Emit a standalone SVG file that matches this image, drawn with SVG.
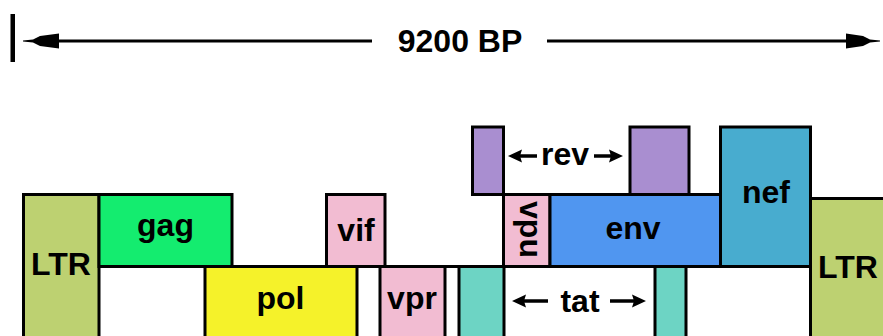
<svg xmlns="http://www.w3.org/2000/svg" width="883" height="336" viewBox="0 0 883 336">
<defs>
<style>
.box{stroke:#000;stroke-width:3}
.lbl{font-family:"Liberation Sans",Arial,sans-serif;font-weight:bold;font-size:32px;fill:#000;text-anchor:middle}
.ln{stroke:#000;stroke-width:3;fill:none}
.ar{stroke:#000;stroke-width:3.5;fill:none}
.hd{fill:#000}
.ltr{fill:#BDD171}
.pink{fill:#F2BCD2}
.rev{fill:#A98ED0}
.tat{fill:#6DD4C4}
</style>
</defs>
<rect width="883" height="336" fill="#fff"/>

<g id="connectors">
<rect x="10.5" y="14" width="4.5" height="48" fill="#000"/>
<line class="ln" x1="58" y1="41" x2="372" y2="41" stroke-width="3.5"/>
<line class="ln" x1="547" y1="41" x2="848" y2="41" stroke-width="3.5"/>
<polygon class="hd" points="23,40.5 33,39.5 40,36 59,33.5 59,48.5 40,46 33,42.5 23,41.5"/>
<polygon class="hd" points="880,40.5 870,39.5 863,36 846,33.5 846,48.5 863,46 870,42.5 880,41.5"/>
<line class="ln" x1="99" y1="266.5" x2="811" y2="266.5"/>
<line class="ar" x1="537" y1="156" x2="518" y2="156"/>
<polygon class="hd" points="508,156 522,149.5 520,156 522,162.5"/>
<line class="ar" x1="594" y1="156" x2="613" y2="156"/>
<polygon class="hd" points="623,156 609,149.5 611,156 609,162.5"/>
<line class="ar" x1="548" y1="301" x2="522" y2="301"/>
<polygon class="hd" points="512,301 526,294.5 524,301 526,307.5"/>
<line class="ar" x1="610" y1="301" x2="636" y2="301"/>
<polygon class="hd" points="646,301 632,294.5 634,301 632,307.5"/>
</g>

<g id="scale"><text class="lbl" x="460" y="52">9200 BP</text></g>

<g id="ltr-left"><rect class="box ltr" x="23.5" y="194.5" width="75.5" height="150"/><text class="lbl" x="61" y="275">LTR</text></g>
<g id="gag"><rect class="box" fill="#14EC6F" x="99" y="194.5" width="133" height="72"/><text class="lbl" x="165.5" y="236">gag</text></g>
<g id="vif"><rect class="box pink" x="326.5" y="194.5" width="58.5" height="72"/><text class="lbl" x="356" y="241">vif</text></g>
<g id="pol"><rect class="box" fill="#F5F22A" x="205" y="266.5" width="152" height="80"/><text class="lbl" x="280.5" y="309">pol</text></g>
<g id="vpr"><rect class="box pink" x="380" y="266.5" width="65" height="80"/><text class="lbl" x="412" y="309">vpr</text></g>
<g id="tat"><rect class="box tat" x="459" y="266.5" width="45" height="80"/><rect class="box tat" x="655" y="266.5" width="31" height="80"/><text class="lbl" x="580" y="312">tat</text></g>
<g id="rev"><rect class="box rev" x="472.5" y="127" width="31" height="67.5"/><rect class="box rev" x="630" y="127" width="59" height="67.5"/><text class="lbl" x="565" y="165">rev</text></g>
<g id="vpu"><rect class="box pink" x="503.5" y="194.5" width="46.5" height="72"/><text class="lbl" transform="translate(520,229.5) rotate(90)" x="0" y="0">vpu</text></g>
<g id="env"><rect class="box" fill="#5096F0" x="550" y="194.5" width="170.5" height="72"/><text class="lbl" x="633" y="239">env</text></g>
<g id="nef"><rect class="box" fill="#48ACCF" x="720.5" y="127" width="90" height="139.5"/><text class="lbl" x="766" y="203">nef</text></g>
<g id="ltr-right"><rect class="box ltr" x="810.5" y="198.5" width="80" height="150"/><text class="lbl" x="848" y="278">LTR</text></g>
</svg>
